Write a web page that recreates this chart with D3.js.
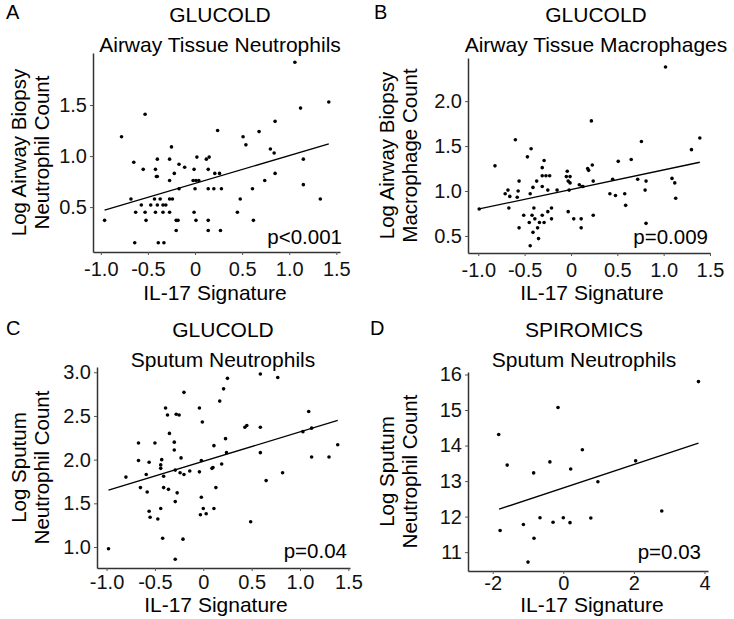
<!DOCTYPE html>
<html>
<head>
<meta charset="utf-8">
<script src="https://cdn.jsdelivr.net/npm/d3@7"></script>
<style>
  html, body { margin: 0; padding: 0; background: #fff; }
  svg { display: block; font-family: "Liberation Sans", Arial, sans-serif; }
</style>
</head>
<body>
<svg id="chart" width="734" height="619"></svg>
<script>
// ---------------- DATA ----------------
// Panel A: GLUCOLD Airway Tissue Neutrophils
const aX = [-0.96,-0.78,-0.53,-0.65,-0.55,-0.68,-0.63,-0.57,-0.53,-0.52,-0.47,-0.43,-0.42,-0.40,-0.37,-0.34,-0.31,-0.34,-0.27,-0.24,
            -0.27,-0.42,-0.41,-0.40,-0.40,-0.27,-0.25,-0.27,-0.22,-0.17,-0.11,-0.17,-0.20,-0.18,-0.20,-0.64,-0.39,-0.33,-0.01,0.02,
            -0.02,0.01,0.04,0.00,-0.01,0.01,0.12,0.15,0.14,0.21,0.26,0.14,0.20,0.28,0.14,0.14,0.27,0.24,
            1.06,1.42,1.12,0.85,0.68,0.51,0.54,0.80,0.84,1.15,0.85,0.74,0.61,1.15,0.48,1.33,0.45,0.62];
const aY = [0.37,1.19,1.41,0.94,0.87,0.58,0.45,0.52,0.45,0.37,0.52,0.58,0.45,0.52,0.58,0.52,0.52,0.45,0.58,0.58,
            0.45,0.87,0.80,0.80,0.97,0.97,1.09,0.76,0.83,0.92,0.89,0.68,0.37,0.37,0.27,0.15,0.15,0.15,0.87,0.99,
            0.76,0.76,0.76,0.68,0.45,0.37,0.97,0.99,0.87,0.83,0.83,0.68,0.68,0.68,0.37,0.27,0.27,1.25,
            1.92,1.53,1.47,1.34,1.24,1.19,1.11,1.07,1.03,0.97,0.83,0.76,0.68,0.72,0.58,0.58,0.45,0.37];
const aFitX = [-0.96, 1.42];
const aFitY = [0.47, 1.12];

// Panel B: GLUCOLD Airway Tissue Macrophages
const bX = [-0.99,-0.82,-0.60,-0.71,-0.68,-0.66,-0.67,-0.56,-0.57,-0.58,-0.56,-0.51,-0.47,-0.43,-0.44,-0.41,-0.37,-0.40,-0.45,-0.42,
            -0.39,-0.41,-0.36,-0.44,-0.35,-0.34,-0.31,-0.29,-0.25,-0.21,-0.21,-0.29,-0.31,-0.31,-0.27,-0.23,-0.31,-0.25,-0.15,-0.04,
            -0.05,-0.01,-0.03,-0.01,-0.02,-0.03,0.03,0.11,0.11,0.09,0.12,
            0.13,0.22,0.24,0.18,0.19,0.23,0.24,0.51,0.65,0.45,0.42,0.48,0.58,0.59,0.72,0.81,0.80,0.76,0.81,1.02,1.09,1.12,1.13,1.30,1.39];
const bY = [0.80,1.28,1.57,0.97,1.01,0.94,0.81,1.11,1.00,0.93,0.59,0.73,1.38,1.47,0.97,1.04,1.11,0.81,0.65,0.73,
            0.69,0.54,0.59,0.39,0.47,0.65,0.73,0.65,0.77,0.81,0.69,1.34,1.26,1.17,1.17,1.17,1.05,1.01,1.01,1.22,
            1.16,1.16,1.11,1.09,1.01,0.77,0.69,0.69,0.59,1.07,1.05,
            1.05,1.78,0.73,1.25,1.23,1.29,1.11,1.33,1.35,1.13,0.97,0.95,0.97,0.84,1.13,1.11,1.01,1.55,0.64,2.38,1.14,1.09,0.92,1.46,1.59];
const bFitX = [-0.99, 1.39];
const bFitY = [0.80, 1.32];

// Panel C: GLUCOLD Sputum Neutrophils
const cX = [-0.98,-0.80,-0.67,-0.67,-0.56,-0.59,-0.65,-0.58,-0.50,-0.56,-0.55,-0.47,-0.44,-0.42,-0.44,-0.43,-0.44,-0.41,-0.41,-0.36,
            -0.39,-0.37,-0.35,-0.30,-0.30,-0.28,-0.25,-0.29,-0.27,-0.29,-0.29,-0.23,-0.24,-0.20,-0.20,-0.21,-0.14,-0.04,-0.01,-0.02,
            -0.04,-0.02,0.00,-0.03,0.03,0.11,0.13,0.09,0.10,0.11,0.17,0.19,0.21,
            0.25,0.23,0.24,0.59,0.77,1.09,0.43,0.45,0.59,1.03,1.12,0.59,1.39,1.12,1.30,0.82,0.65,0.49];
const cY = [0.98,1.80,2.19,1.99,1.97,1.83,1.68,1.63,2.19,1.41,1.34,1.32,1.44,1.10,1.94,2.00,1.90,1.81,1.68,1.66,
            2.59,2.51,2.30,2.20,2.11,2.52,2.51,1.88,1.62,1.52,0.86,2.02,1.85,1.83,2.77,1.09,1.87,2.59,2.43,1.99,
            1.86,1.57,1.44,1.37,1.38,1.44,1.68,1.90,1.91,2.16,2.67,1.95,2.81,
            2.93,2.24,2.08,2.98,2.94,2.55,2.37,2.39,2.37,2.32,2.36,2.08,2.17,2.03,2.03,1.85,1.76,1.29];
const cFitX = [-0.98, 1.39];
const cFitY = [1.65, 2.45];

// Panel D: SPIROMICS Sputum Neutrophils
const dX = [-1.83,-1.79,-1.59,-1.13,-1.00,-0.83,-0.84,-0.66,-0.38,-0.29,-0.15,0.00,0.19,0.21,0.54,0.98,2.05,0.78,2.79,3.83];
const dY = [14.31,11.61,13.45,11.78,10.72,11.39,13.23,11.97,13.54,11.84,15.07,11.97,11.83,13.34,13.88,12.98,13.57,11.96,12.16,15.80];
const dFitX = [-1.82, 3.83];
const dFitY = [12.21, 14.07];

// Tick values
const xTicksABC = [-1.0, -0.5, 0, 0.5, 1.0, 1.5];
const xTicksD = [-2, 0, 2, 4];
const yTicksA = [0.5, 1.0, 1.5];
const yTicksB = [0.5, 1.0, 1.5, 2.0];
const yTicksC = [1.0, 1.5, 2.0, 2.5, 3.0];
const yTicksD = [11, 12, 13, 14, 15, 16];

// Texts
const letters = ["A", "B", "C", "D"];
const titles1 = ["GLUCOLD", "GLUCOLD", "GLUCOLD", "SPIROMICS"];
const titles2 = ["Airway Tissue Neutrophils", "Airway Tissue Macrophages", "Sputum Neutrophils", "Sputum Neutrophils"];
const yLabel1 = ["Log Airway Biopsy", "Log Airway Biopsy", "Log Sputum", "Log Sputum"];
const yLabel2 = ["Neutrophil Count", "Macrophage Count", "Neutrophil Count", "Neutrophil Count"];
const xLabel = "IL-17 Signature";
const pTexts = ["p<0.001", "p=0.009", "p=0.04", "p=0.03"];

// ---------------- LAYOUT ----------------
const svg = d3.select("#chart");
const fmt1 = d => d === 0 ? "0" : d.toFixed(1);
const fmt0 = d => String(d);

const panels = [
  { xs: aX, ys: aY, fx: aFitX, fy: aFitY, xt: xTicksABC, yt: yTicksA, xf: fmt1, yf: fmt1,
    box: [93, 340, 53, 252], xd: [-1.083, 1.539], yd: [0.06, 2.01], xpad: 7,
    letter: [6, 19], tcx: 220, t1y: 22, t2y: 52, yl: [26, 49], xlx: 215, xly: 300, p: [342, 244] },
  { xs: bX, ys: bY, fx: bFitX, fy: bFitY, xt: xTicksABC, yt: yTicksB, xf: fmt1, yf: fmt1,
    box: [468, 710, 58, 253], xd: [-1.111, 1.50], yd: [0.31, 2.48], xpad: 7,
    letter: [374, 19], tcx: 596, t1y: 22, t2y: 52, yl: [394, 417], xlx: 592, xly: 300, p: [708, 244] },
  { xs: cX, ys: cY, fx: cFitX, fy: cFitY, xt: xTicksABC, yt: yTicksC, xf: fmt1, yf: fmt1,
    box: [97, 350, 367, 568], xd: [-1.099, 1.517], yd: [0.76, 3.06], xpad: 4,
    letter: [6, 335], tcx: 223, t1y: 337, t2y: 367, yl: [26, 49], xlx: 216, xly: 612, p: [347, 558] },
  { xs: dX, ys: dY, fx: dFitX, fy: dFitY, xt: xTicksD, yt: yTicksD, xf: fmt0, yf: fmt0,
    box: [468, 708, 372, 571], xd: [-2.7, 4.1], yd: [10.47, 16.07], xpad: 2,
    letter: [370, 335], tcx: 584, t1y: 337, t2y: 367, yl: [394, 417], xlx: 592, xly: 612, p: [701, 559] }
];

panels.forEach((P, i) => {
  const [L, R, T, B] = P.box;
  const x = d3.scaleLinear().domain(P.xd).range([L, R]);
  const y = d3.scaleLinear().domain(P.yd).range([B, T]);
  const g = svg.append("g");

  // axes
  const xa = g.append("g").attr("transform", `translate(0,${B})`)
    .call(d3.axisBottom(x).tickValues(P.xt).tickFormat(P.xf).tickSize(3).tickSizeOuter(0).tickPadding(P.xpad));
  const ya = g.append("g").attr("transform", `translate(${L},0)`)
    .call(d3.axisLeft(y).tickValues(P.yt).tickFormat(P.yf).tickSize(3).tickSizeOuter(0).tickPadding(3));
  [xa, ya].forEach(a => {
    a.attr("font-size", 20).attr("font-family", "Liberation Sans, Arial, sans-serif");
    a.select(".domain").attr("stroke", "#333").attr("stroke-width", 1.5);
    a.selectAll(".tick line").attr("stroke", "#555").attr("stroke-width", 1);
    a.selectAll(".tick text").attr("fill", "#111");
  });

  // points
  g.append("g").selectAll("circle")
    .data(P.xs.map((v, k) => [v, P.ys[k]]))
    .join("circle")
    .attr("cx", d => x(d[0])).attr("cy", d => y(d[1]))
    .attr("r", 1.8).attr("fill", "#000");

  // fit line
  g.append("line")
    .attr("x1", x(P.fx[0])).attr("y1", y(P.fy[0]))
    .attr("x2", x(P.fx[1])).attr("y2", y(P.fy[1]))
    .attr("stroke", "#000").attr("stroke-width", 1.3);

  // texts
  const txt = (xx, yy, s, anchor, size) => g.append("text")
    .attr("x", xx).attr("y", yy).attr("text-anchor", anchor)
    .attr("font-size", size).attr("fill", "#000").text(s);
  txt(P.letter[0], P.letter[1], letters[i], "start", 20);
  txt(P.tcx, P.t1y, titles1[i], "middle", 21);
  txt(P.tcx, P.t2y, titles2[i], "middle", 21);
  txt(P.xlx, P.xly, xLabel, "middle", 21);
  txt(P.p[0], P.p[1], pTexts[i], "end", 20.5);

  const cy = (T + B) / 2;
  [yLabel1[i], yLabel2[i]].forEach((s, k) => {
    g.append("text")
      .attr("transform", `translate(${P.yl[k]},${cy}) rotate(-90)`)
      .attr("text-anchor", "middle").attr("font-size", 20.5).attr("fill", "#000").text(s);
  });
});
</script>
</body>
</html>
